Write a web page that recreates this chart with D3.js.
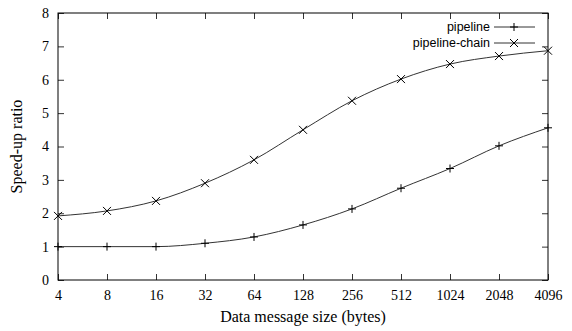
<!DOCTYPE html>
<html>
<head>
<meta charset="utf-8">
<script src="https://cdn.jsdelivr.net/npm/d3@7"></script>
<style>
  body { margin: 0; background: white; }
</style>
</head>
<body>
<script>
// message sizes (bytes)
const sizes = [4, 8, 16, 32, 64, 128, 256, 512, 1024, 2048, 4096];
const pipeline = [1.0, 1.0, 1.0, 1.1, 1.29, 1.65, 2.13, 2.75, 3.34, 4.02, 4.56];
const pipelineChain = [1.92, 2.07, 2.37, 2.9, 3.6, 4.5, 5.37, 6.02, 6.47, 6.71, 6.87];
const yTicks = [0, 1, 2, 3, 4, 5, 6, 7, 8];

var width = 572, height = 331;
var margin = {top: 13, right: 24, bottom: 51, left: 58};
var w = width - margin.left - margin.right;
var h = height - margin.top - margin.bottom;

var svg = d3.select("body").append("svg")
    .attr("width", width)
    .attr("height", height);

var g = svg.append("g")
    .attr("transform", "translate(" + margin.left + "," + margin.top + ")");

var x = d3.scalePoint().domain(sizes).range([0, w]);
var y = d3.scaleLinear().domain([0, 8]).range([h, 0]);

function serifTicks(a) {
    a.select(".domain").remove();
    a.attr("font-family", "Liberation Serif, DejaVu Serif, serif")
     .attr("font-size", 14);
    a.selectAll(".tick text").attr("fill", "black");
    a.selectAll(".tick line").attr("stroke", "#333");
}

// bottom axis + mirrored top ticks
g.append("g")
    .attr("transform", "translate(0," + h + ")")
    .call(d3.axisBottom(x).tickSize(-6).tickPadding(10))
    .call(serifTicks);
g.append("g")
    .call(d3.axisTop(x).tickSize(-6).tickFormat(""))
    .call(serifTicks);

// left axis + mirrored right ticks
g.append("g")
    .call(d3.axisLeft(y).tickValues(yTicks).tickSize(-6).tickPadding(9))
    .call(serifTicks);
g.append("g")
    .attr("transform", "translate(" + w + ",0)")
    .call(d3.axisRight(y).tickValues(yTicks).tickSize(-6).tickFormat(""))
    .call(serifTicks);

// frame
g.append("rect")
    .attr("width", w).attr("height", h)
    .attr("fill", "none").attr("stroke", "black").attr("stroke-width", 1);

var line = d3.line().curve(d3.curveMonotoneX)
    .x((d, i) => x(sizes[i]))
    .y(d => y(d));

function plus(sel, cx, cy) {
    sel.append("path")
        .attr("d", "M" + (cx - 4) + "," + cy + "h8M" + cx + "," + (cy - 4) + "v8")
        .attr("stroke", "black").attr("fill", "none");
}
function cross(sel, cx, cy) {
    sel.append("path")
        .attr("d", "M" + (cx - 4) + "," + (cy - 4) + "l8,8M" + (cx - 4) + "," + (cy + 4) + "l8,-8")
        .attr("stroke", "black").attr("fill", "none");
}

[[pipeline, plus], [pipelineChain, cross]].forEach(function (s) {
    g.append("path")
        .datum(s[0])
        .attr("d", line)
        .attr("fill", "none")
        .attr("stroke", "#333")
        .attr("stroke-width", 1);
    s[0].forEach(function (v, i) { s[1](g, x(sizes[i]), y(v)); });
});

// legend
var names = ["pipeline", "pipeline-chain"];
var marks = [plus, cross];
names.forEach(function (n, i) {
    var ly = 14 + i * 16;
    g.append("text")
        .attr("x", 432).attr("y", ly + 4)
        .attr("text-anchor", "end")
        .style("font-family", "Liberation Sans, Arial, sans-serif")
        .style("font-size", "12.5px")
        .text(n);
    g.append("line")
        .attr("x1", 436).attr("x2", 477)
        .attr("y1", ly).attr("y2", ly)
        .attr("stroke", "#333");
    marks[i](g, 456, ly);
});

// axis titles
svg.append("text")
    .attr("x", margin.left + w / 2).attr("y", 322)
    .attr("text-anchor", "middle")
    .style("font-family", "Liberation Serif, DejaVu Serif, serif")
    .style("font-size", "16px")
    .text("Data message size (bytes)");

svg.append("text")
    .attr("transform", "translate(22," + (margin.top + h / 2) + ") rotate(-90)")
    .attr("text-anchor", "middle")
    .style("font-family", "Liberation Serif, DejaVu Serif, serif")
    .style("font-size", "16px")
    .text("Speed-up ratio");
</script>
</body>
</html>
